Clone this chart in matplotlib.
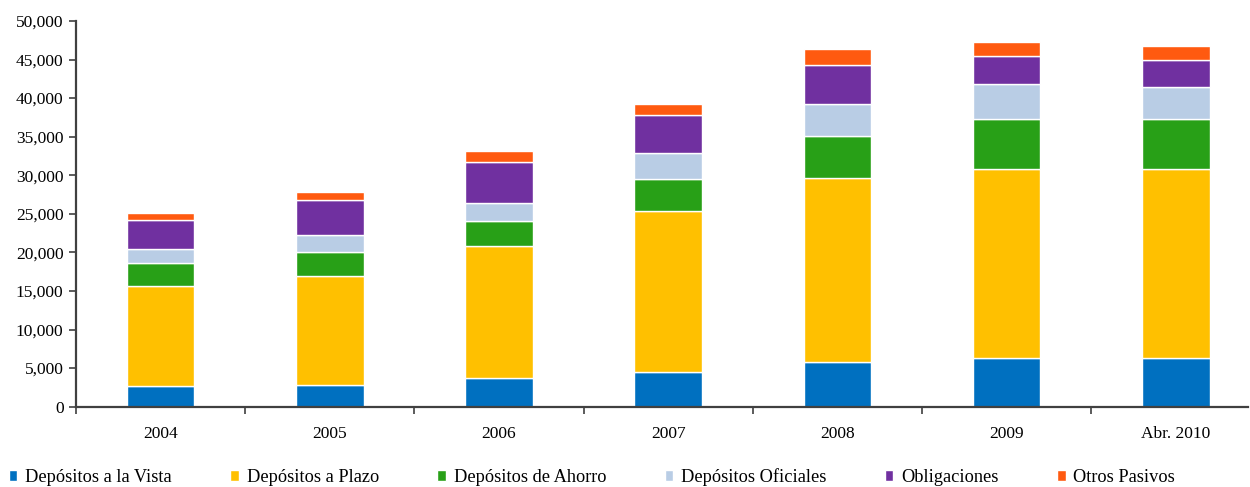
import matplotlib
matplotlib.use("Agg")
import matplotlib.pyplot as plt
import numpy as np

# Categories and series (millions)
categories = ["2004", "2005", "2006", "2007", "2008", "2009", "Abr. 2010"]
series_names = ["Depósitos a la Vista", "Depósitos a Plazo", "Depósitos de Ahorro",
                "Depósitos Oficiales", "Obligaciones", "Otros Pasivos"]
vista = [2680, 2850, 3720, 4500, 5750, 6310, 6310]
plazo = [13000, 14130, 17110, 20860, 23930, 24460, 24460]
ahorro = [2900, 3070, 3240, 4150, 5400, 6520, 6480]
oficiales = [1860, 2200, 2370, 3410, 4190, 4530, 4220]
obligaciones = [3760, 4500, 5230, 4880, 5050, 3630, 3460]
otros = [940, 1110, 1510, 1430, 2000, 1770, 1780]
yticks = [0, 5000, 10000, 15000, 20000, 25000, 30000, 35000, 40000, 45000, 50000]

colors = ["#0070C0", "#FFC000", "#28A017", "#B9CDE5", "#7030A0", "#FF5A10"]

plt.rcParams["font.family"] = ["Liberation Serif", "DejaVu Serif"]

fig = plt.figure(figsize=(12.5, 4.87), dpi=100)
ax = fig.add_axes([76 / 1250, 80.3 / 487, 1172 / 1250, 385.7 / 487])

x = np.arange(len(categories))
bottom = np.zeros(len(categories))
handles = []
for name, vals, col in zip(series_names, [vista, plazo, ahorro, oficiales, obligaciones, otros], colors):
    b = ax.bar(x, vals, width=0.40, bottom=bottom, color=col, edgecolor="white",
               linewidth=1.0, label=name)
    handles.append(b)
    bottom += np.array(vals)

ax.set_xlim(-0.5, -0.5 + 1172 / 169.2)
ax.set_ylim(0, 50000)
ax.set_yticks(yticks)
ax.set_yticklabels([f"{v:,}" for v in yticks])

# boundary ticks between categories, labels centred under bars
ax.set_xticks(np.arange(-0.5, len(categories) - 1, 1.0))
ax.set_xticklabels([])
ax.set_xticks(x, minor=True)
ax.set_xticklabels(categories, minor=True)
ax.tick_params(axis="x", which="minor", length=0, pad=14, labelsize=12.5)
ax.tick_params(axis="x", which="major", length=5, width=1.2, color="#404040", direction="out")
ax.tick_params(axis="y", length=5, width=1.2, color="#404040", direction="out", pad=4, labelsize=12.5)

for s in ["top", "right"]:
    ax.spines[s].set_visible(False)
for s in ["left", "bottom"]:
    ax.spines[s].set_color("#404040")
    ax.spines[s].set_linewidth(1.6)

fig.legend(handles=handles, labels=series_names, loc="center left",
           bbox_to_anchor=(9 / 1250, 10 / 487), bbox_transform=fig.transFigure,
           ncol=6, frameon=False, fontsize=13.2, handlelength=0.46, handleheight=0.62,
           handletextpad=0.42, columnspacing=3.2, borderaxespad=0, borderpad=0)

fig.savefig("out.png", dpi=100)
